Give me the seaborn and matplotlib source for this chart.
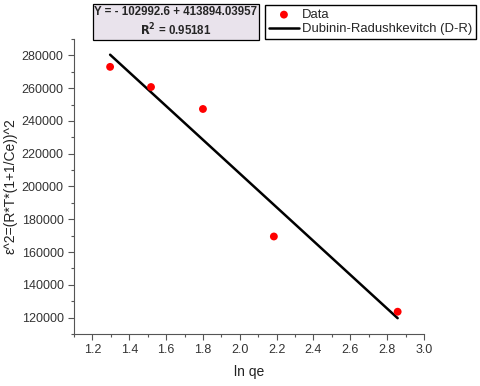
import numpy as np
import pandas as pd
import matplotlib
matplotlib.use("Agg")
import matplotlib.pyplot as plt
from matplotlib.ticker import MultipleLocator
import seaborn as sns

# data
ln_qe = [1.296, 1.518, 1.800, 2.185, 2.857]
eps2 = [273000, 260700, 247300, 169500, 123600]

# linear fit as reported in the equation box
INTERCEPT = 413894.03957
SLOPE = -102992.6
R2 = 0.95181

sns.set_style("ticks")
plt.rcParams["font.family"] = ["Liberation Sans", "DejaVu Sans"]

fig = plt.figure(figsize=(4.8, 3.86), dpi=100)
ax = fig.add_axes([74 / 480, 1 - 334 / 386, (424 - 74) / 480, (334 - 39) / 386])

df = pd.DataFrame({"x": ln_qe, "y": eps2})
fit_x = np.array([min(ln_qe), max(ln_qe)])
fit = pd.DataFrame({"x": fit_x, "y": INTERCEPT + SLOPE * fit_x})

sns.scatterplot(data=df, x="x", y="y", ax=ax, color="#ff0000", s=32,
                edgecolor="none", label="Data", zorder=3)
sns.lineplot(data=fit, x="x", y="y", ax=ax, color="black", linewidth=1.8,
             label="Dubinin-Radushkevitch (D-R)")

ax.set_xlim(1.1, 3.0)
ax.set_ylim(110000, 290000)
ax.xaxis.set_minor_locator(MultipleLocator(0.1))
ax.yaxis.set_minor_locator(MultipleLocator(10000))
xt = np.arange(1.2, 3.01, 0.2)
ax.set_xticks(xt)
ax.set_xticklabels([f"{v:.1f}" for v in xt])
ax.set_yticks(np.arange(120000, 280001, 20000))

for s in ("top", "right"):
    ax.spines[s].set_visible(False)
for s in ("left", "bottom"):
    ax.spines[s].set_color("#555555")
    ax.spines[s].set_linewidth(0.8)
ax.tick_params(which="major", length=4, width=0.8, color="#555555",
               labelsize=9, labelcolor="#333333", direction="out")
ax.tick_params(which="minor", length=2.5, width=0.8, color="#555555", direction="out")

ax.set_xlabel("ln qe", fontsize=10, color="#222222", labelpad=6)
ax.set_ylabel("ε^2=(R*T*(1+1/Ce))^2", fontsize=10, color="#222222")
ax.yaxis.set_label_coords(-0.16, 0.5)

ax.legend(loc="upper left", bbox_to_anchor=(265 / 480, 1 - 5 / 386),
          bbox_transform=fig.transFigure, frameon=True, fancybox=False,
          edgecolor="black", fontsize=9.4, handlelength=2.3, borderpad=0.3,
          labelspacing=0.15, handletextpad=0.2, borderaxespad=0,
          framealpha=1)

eq = f"Y = - {abs(SLOPE)} + {INTERCEPT}\n$\\mathbf{{R^2}}$ = {R2}"
fig.text(176 / 480, 1 - 22 / 386, eq, ha="center", va="center", fontsize=8.3,
         fontweight="bold", linespacing=1.3,
         bbox=dict(boxstyle="square,pad=0.15", facecolor="#e9e3ec", edgecolor="black", linewidth=0.9))

fig.savefig("out.png", dpi=100)
